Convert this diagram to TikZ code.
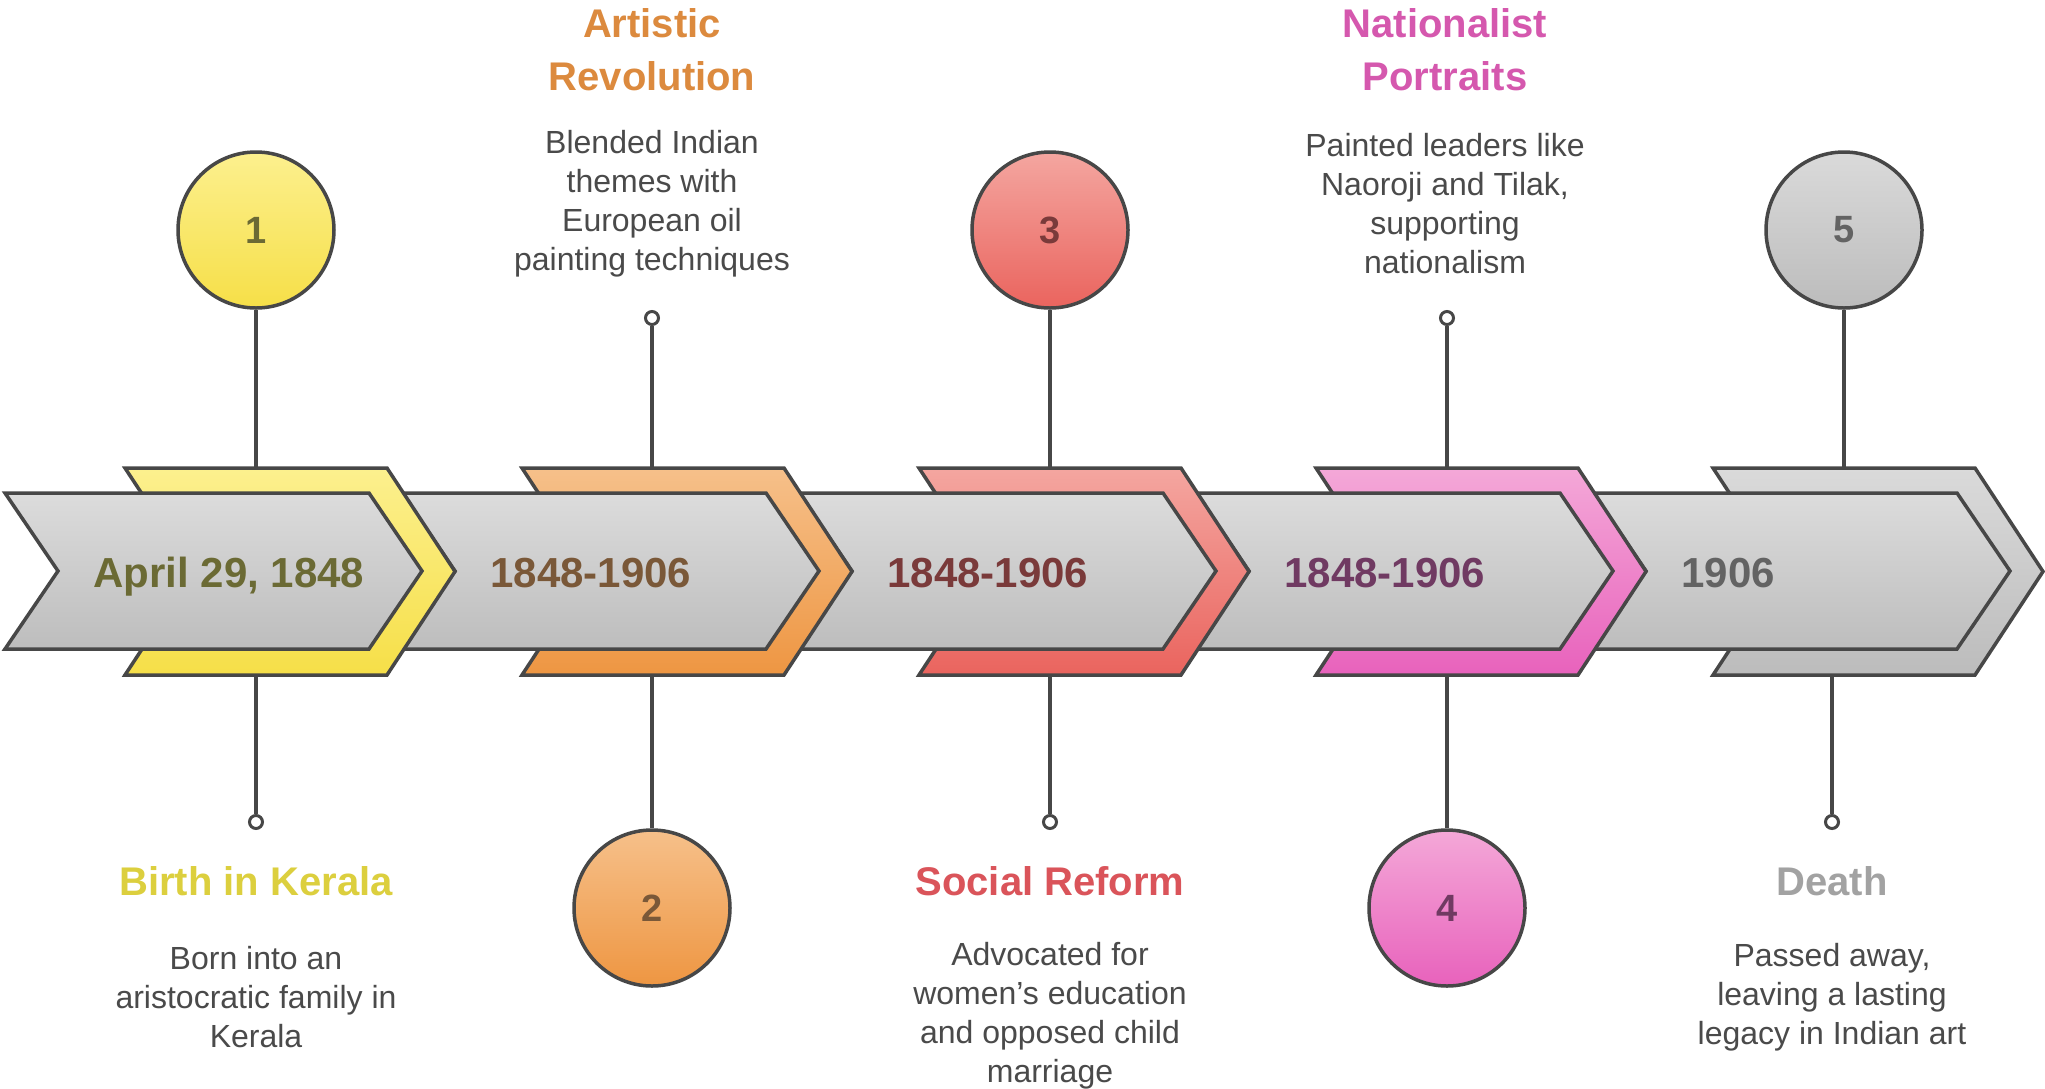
\documentclass[tikz,border=0pt]{standalone}
\usepackage{fontspec}
\setmainfont{Liberation Sans}
\definecolor{edge}{HTML}{474747}
\definecolor{bandT}{HTML}{DCDCDC}
\definecolor{bandB}{HTML}{BDBDBD}
\definecolor{descC}{HTML}{4A4A4A}
\definecolor{yT}{HTML}{FCF08E}
\definecolor{yB}{HTML}{F6DF48}
\definecolor{oT}{HTML}{F6C08A}
\definecolor{oB}{HTML}{EE9642}
\definecolor{rT}{HTML}{F4A6A0}
\definecolor{rB}{HTML}{EA645E}
\definecolor{pT}{HTML}{F4A8D8}
\definecolor{pB}{HTML}{E862BC}
\definecolor{gT}{HTML}{DADADA}
\definecolor{gB}{HTML}{BCBCBC}
\definecolor{yD}{HTML}{6B6A34}
\definecolor{oD}{HTML}{7A5838}
\definecolor{rD}{HTML}{7A3A3A}
\definecolor{pD}{HTML}{703A62}
\definecolor{gD}{HTML}{636363}
\definecolor{yH}{HTML}{DCCF3E}
\definecolor{oH}{HTML}{DC8A3E}
\definecolor{rH}{HTML}{DA545A}
\definecolor{pH}{HTML}{D558AE}
\definecolor{gH}{HTML}{A2A2A2}
\newcommand{\colchev}[3]{\path[draw=edge,line width=3.5pt,top color=#2,bottom color=#3]
  (#1-131,468) -- (#1+131,468) -- (#1+199,571.5) -- (#1+131,675) -- (#1-131,675) -- (#1-63,571.5) -- cycle;}
\newcommand{\graychev}[1]{\path[band]
  (#1-251,493) -- (#1+113,493) -- (#1+166,571) -- (#1+113,649) -- (#1-251,649) -- (#1-198,571) -- cycle;}
\tikzset{
 band/.style={draw=edge, line width=3.5pt, top color=bandT, bottom color=bandB},
 conn/.style={draw=edge, line width=3.5pt},
 bigdot/.style={circle, draw=edge, line width=3.5pt, minimum size=156pt, inner sep=0pt, font=\fontsize{38}{38}\selectfont\bfseries},
 smalldot/.style={circle, draw=edge, line width=3pt, fill=white, minimum size=13pt, inner sep=0pt},
 datetext/.style={anchor=base west, font=\fontsize{42}{42}\selectfont\bfseries},
 titletext/.style={align=center, font=\fontsize{40}{53}\selectfont\bfseries},
 desctext/.style={align=center, text=descC, font=\fontsize{32}{39}\selectfont},
}
\begin{document}
\begin{tikzpicture}[x=1pt,y=-1pt]
\useasboundingbox[fill=white] (0,0) rectangle (2045,1088);
% chevrons, right to left
\colchev{1844}{gT}{gB}\graychev{1844}
\colchev{1447}{pT}{pB}\graychev{1447}
\colchev{1050}{rT}{rB}\graychev{1050}
\colchev{653}{oT}{oB}\graychev{653}
\colchev{256}{yT}{yB}\graychev{256}
% dates
\node[datetext, text=yD] (d1) at (90,587) {April 29, 1848};
\node[datetext, text=oD] (d2) at (487,587) {1848-1906};
\node[datetext, text=rD] (d3) at (884,587) {1848-1906};
\node[datetext, text=pD] (d4) at (1281,587) {1848-1906};
\node[datetext, text=gD] (d5) at (1678,587) {1906};
% anchor coordinates on chevrons
\coordinate (t1) at (256,468);  \coordinate (b1) at (256,675);
\coordinate (t2) at (652,468);  \coordinate (b2) at (652,675);
\coordinate (t3) at (1050,468); \coordinate (b3) at (1050,675);
\coordinate (t4) at (1447,468); \coordinate (b4) at (1447,675);
\coordinate (t5) at (1844,468); \coordinate (b5) at (1832,675);
% stage 1
\node[bigdot, top color=yT, bottom color=yB, text=yD] (n1) at (256,230) {1};
\node[smalldot] (s1) at (256,822) {};
\draw[conn] (n1) -- (t1);
\draw[conn] (b1) -- (s1);
\node[titletext, text=yH] (h1) at (256,881) {Birth in Kerala};
\node[desctext] (p1) at (256,997) {Born into an\\aristocratic family in\\Kerala};
% stage 2
\node[smalldot] (s2) at (652,318) {};
\node[bigdot, top color=oT, bottom color=oB, text=oD] (n2) at (652,908) {2};
\draw[conn] (s2) -- (t2);
\draw[conn] (b2) -- (n2);
\node[titletext, text=oH] (h2) at (652,50) {Artistic\\Revolution};
\node[desctext] (p2) at (652,204) {Blended Indian\\themes with\\European oil\\painting techniques};
% stage 3
\node[bigdot, top color=rT, bottom color=rB, text=rD] (n3) at (1050,230) {3};
\node[smalldot] (s3) at (1050,822) {};
\draw[conn] (n3) -- (t3);
\draw[conn] (b3) -- (s3);
\node[titletext, text=rH] (h3) at (1050,881) {Social Reform};
\node[desctext] (p3) at (1050,1016) {Advocated for\\women’s education\\and opposed child\\marriage};
% stage 4
\node[smalldot] (s4) at (1447,318) {};
\node[bigdot, top color=pT, bottom color=pB, text=pD] (n4) at (1447,908) {4};
\draw[conn] (s4) -- (t4);
\draw[conn] (b4) -- (n4);
\node[titletext, text=pH] (h4) at (1445,50) {Nationalist\\Portraits};
\node[desctext] (p4) at (1445,204) {Painted leaders like\\Naoroji and Tilak,\\supporting\\nationalism};
% stage 5
\node[bigdot, top color=gT, bottom color=gB, text=gD] (n5) at (1844,230) {5};
\node[smalldot] (s5) at (1832,822) {};
\draw[conn] (n5) -- (t5);
\draw[conn] (b5) -- (s5);
\node[titletext, text=gH] (h5) at (1832,881) {Death};
\node[desctext] (p5) at (1832,997) {Passed away,\\leaving a lasting\\legacy in Indian art};
\end{tikzpicture}
\end{document}
